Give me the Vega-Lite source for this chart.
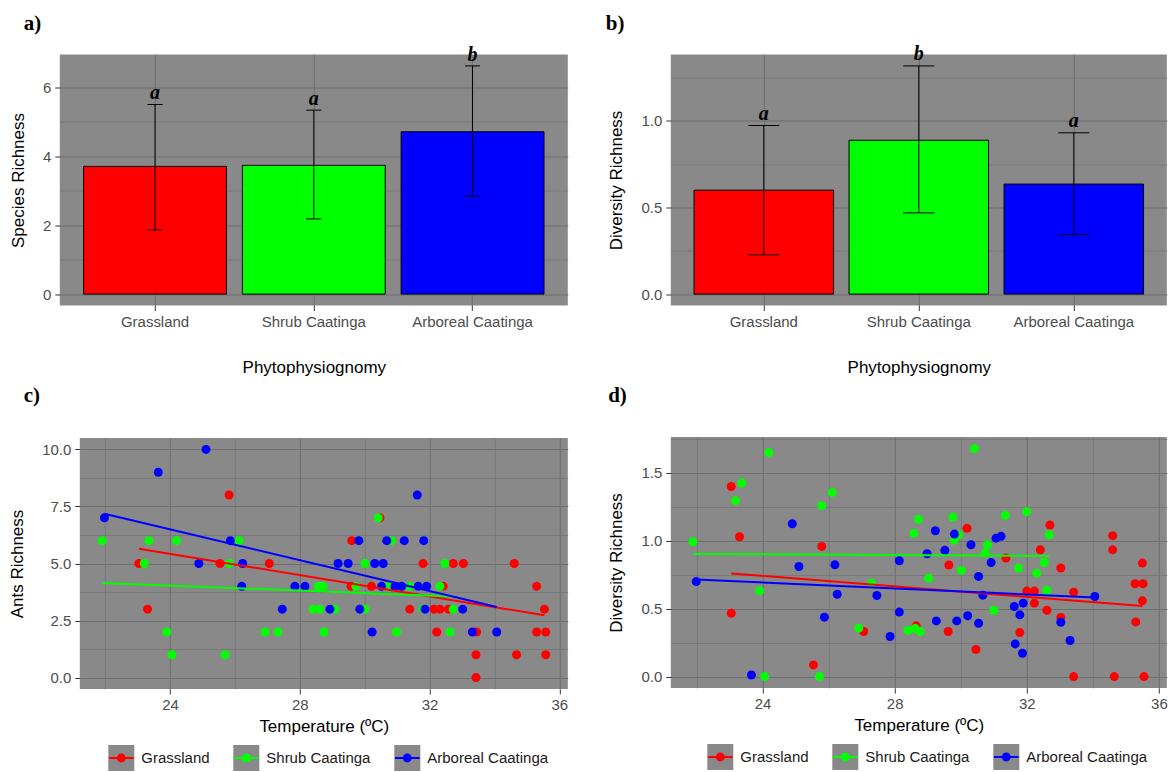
{
  "$schema": "https://vega.github.io/schema/vega-lite/v6.json",
  "background": "white",
  "padding": {"left": 7.8, "top": 12.5, "right": 0, "bottom": 0},
  "datasets": {
    "barsA": [
      {"site": "Grassland", "mean": 3.71, "lo": 1.865, "hi": 5.507, "letter": "a"},
      {"site": "Shrub Caatinga", "mean": 3.74, "lo": 2.184, "hi": 5.343, "letter": "a"},
      {"site": "Arboreal Caatinga", "mean": 4.715, "lo": 2.841, "hi": 6.628, "letter": "b"}
    ],
    "barsB": [
      {"site": "Grassland", "mean": 0.6, "lo": 0.227, "hi": 0.973, "letter": "a"},
      {"site": "Shrub Caatinga", "mean": 0.888, "lo": 0.469, "hi": 1.317, "letter": "b"},
      {"site": "Arboreal Caatinga", "mean": 0.635, "lo": 0.344, "hi": 0.931, "letter": "a"}
    ],
    "ants": [
      {"g": "Grassland", "t": 23.04, "r": 5},
      {"g": "Grassland", "t": 23.31, "r": 3},
      {"g": "Grassland", "t": 25.54, "r": 5},
      {"g": "Grassland", "t": 25.82, "r": 8},
      {"g": "Grassland", "t": 27.06, "r": 5},
      {"g": "Grassland", "t": 29.6, "r": 6},
      {"g": "Grassland", "t": 29.58, "r": 4},
      {"g": "Grassland", "t": 30.21, "r": 4},
      {"g": "Grassland", "t": 30.47, "r": 7},
      {"g": "Grassland", "t": 31.39, "r": 3},
      {"g": "Grassland", "t": 31.8, "r": 5},
      {"g": "Grassland", "t": 32.14, "r": 3},
      {"g": "Grassland", "t": 32.32, "r": 3},
      {"g": "Grassland", "t": 32.22, "r": 2},
      {"g": "Grassland", "t": 32.42, "r": 4},
      {"g": "Grassland", "t": 32.58, "r": 3},
      {"g": "Grassland", "t": 32.73, "r": 5},
      {"g": "Grassland", "t": 33.04, "r": 5},
      {"g": "Grassland", "t": 33.45, "r": 2},
      {"g": "Grassland", "t": 33.43, "r": 1},
      {"g": "Grassland", "t": 33.43, "r": 0},
      {"g": "Grassland", "t": 34.61, "r": 5},
      {"g": "Grassland", "t": 34.68, "r": 1},
      {"g": "Grassland", "t": 35.3, "r": 4},
      {"g": "Grassland", "t": 35.54, "r": 3},
      {"g": "Grassland", "t": 35.3, "r": 2},
      {"g": "Grassland", "t": 35.58, "r": 2},
      {"g": "Grassland", "t": 35.58, "r": 1},
      {"g": "Shrub Caatinga", "t": 21.91, "r": 6},
      {"g": "Shrub Caatinga", "t": 23.21, "r": 5},
      {"g": "Shrub Caatinga", "t": 23.35, "r": 6},
      {"g": "Shrub Caatinga", "t": 24.2, "r": 6},
      {"g": "Shrub Caatinga", "t": 23.9, "r": 2},
      {"g": "Shrub Caatinga", "t": 24.06, "r": 1},
      {"g": "Shrub Caatinga", "t": 25.7, "r": 1},
      {"g": "Shrub Caatinga", "t": 25.83, "r": 5},
      {"g": "Shrub Caatinga", "t": 26.13, "r": 6},
      {"g": "Shrub Caatinga", "t": 26.93, "r": 2},
      {"g": "Shrub Caatinga", "t": 27.33, "r": 2},
      {"g": "Shrub Caatinga", "t": 28.41, "r": 3},
      {"g": "Shrub Caatinga", "t": 28.62, "r": 3},
      {"g": "Shrub Caatinga", "t": 28.75, "r": 2},
      {"g": "Shrub Caatinga", "t": 28.57, "r": 4},
      {"g": "Shrub Caatinga", "t": 28.72, "r": 4},
      {"g": "Shrub Caatinga", "t": 29.08, "r": 3},
      {"g": "Shrub Caatinga", "t": 29.73, "r": 4},
      {"g": "Shrub Caatinga", "t": 30.01, "r": 3},
      {"g": "Shrub Caatinga", "t": 30.01, "r": 5},
      {"g": "Shrub Caatinga", "t": 30.42, "r": 7},
      {"g": "Shrub Caatinga", "t": 30.83, "r": 6},
      {"g": "Shrub Caatinga", "t": 30.73, "r": 4},
      {"g": "Shrub Caatinga", "t": 30.98, "r": 2},
      {"g": "Shrub Caatinga", "t": 31.39, "r": 4},
      {"g": "Shrub Caatinga", "t": 31.8, "r": 3},
      {"g": "Shrub Caatinga", "t": 32.32, "r": 4},
      {"g": "Shrub Caatinga", "t": 32.47, "r": 5},
      {"g": "Shrub Caatinga", "t": 32.63, "r": 2},
      {"g": "Shrub Caatinga", "t": 32.73, "r": 3},
      {"g": "Arboreal Caatinga", "t": 21.98, "r": 7},
      {"g": "Arboreal Caatinga", "t": 23.64, "r": 9},
      {"g": "Arboreal Caatinga", "t": 25.11, "r": 10},
      {"g": "Arboreal Caatinga", "t": 24.89, "r": 5},
      {"g": "Arboreal Caatinga", "t": 25.86, "r": 6},
      {"g": "Arboreal Caatinga", "t": 26.24, "r": 5},
      {"g": "Arboreal Caatinga", "t": 26.21, "r": 4},
      {"g": "Arboreal Caatinga", "t": 27.46, "r": 3},
      {"g": "Arboreal Caatinga", "t": 27.85, "r": 4},
      {"g": "Arboreal Caatinga", "t": 28.16, "r": 4},
      {"g": "Arboreal Caatinga", "t": 28.93, "r": 3},
      {"g": "Arboreal Caatinga", "t": 29.18, "r": 5},
      {"g": "Arboreal Caatinga", "t": 29.49, "r": 5},
      {"g": "Arboreal Caatinga", "t": 29.82, "r": 6},
      {"g": "Arboreal Caatinga", "t": 29.85, "r": 3},
      {"g": "Arboreal Caatinga", "t": 30.23, "r": 2},
      {"g": "Arboreal Caatinga", "t": 30.31, "r": 5},
      {"g": "Arboreal Caatinga", "t": 30.57, "r": 5},
      {"g": "Arboreal Caatinga", "t": 30.52, "r": 4},
      {"g": "Arboreal Caatinga", "t": 30.68, "r": 6},
      {"g": "Arboreal Caatinga", "t": 31.22, "r": 6},
      {"g": "Arboreal Caatinga", "t": 31.62, "r": 8},
      {"g": "Arboreal Caatinga", "t": 31.82, "r": 6},
      {"g": "Arboreal Caatinga", "t": 31.86, "r": 3},
      {"g": "Arboreal Caatinga", "t": 30.93, "r": 4},
      {"g": "Arboreal Caatinga", "t": 31.14, "r": 4},
      {"g": "Arboreal Caatinga", "t": 31.65, "r": 4},
      {"g": "Arboreal Caatinga", "t": 31.91, "r": 4},
      {"g": "Arboreal Caatinga", "t": 33.02, "r": 3},
      {"g": "Arboreal Caatinga", "t": 33.32, "r": 2},
      {"g": "Arboreal Caatinga", "t": 34.07, "r": 2}
    ],
    "antsFit": [
      {"g": "Grassland", "t": 23.04, "r": 5.65},
      {"g": "Grassland", "t": 35.54, "r": 2.73},
      {"g": "Shrub Caatinga", "t": 21.91, "r": 4.15},
      {"g": "Shrub Caatinga", "t": 32.73, "r": 3.55},
      {"g": "Arboreal Caatinga", "t": 21.98, "r": 7.18},
      {"g": "Arboreal Caatinga", "t": 34.07, "r": 3.09}
    ],
    "div": [
      {"g": "Grassland", "t": 23.05, "r": 1.4},
      {"g": "Grassland", "t": 23.3, "r": 1.03},
      {"g": "Grassland", "t": 23.05, "r": 0.467},
      {"g": "Grassland", "t": 25.79, "r": 0.959},
      {"g": "Grassland", "t": 25.54, "r": 0.086},
      {"g": "Grassland", "t": 27.06, "r": 0.332},
      {"g": "Grassland", "t": 28.65, "r": 0.374},
      {"g": "Grassland", "t": 30.19, "r": 1.092},
      {"g": "Grassland", "t": 32.7, "r": 1.116},
      {"g": "Grassland", "t": 32.41, "r": 0.934},
      {"g": "Grassland", "t": 29.64, "r": 0.822},
      {"g": "Grassland", "t": 31.37, "r": 0.874},
      {"g": "Grassland", "t": 33.03, "r": 0.8},
      {"g": "Grassland", "t": 32.0, "r": 0.63},
      {"g": "Grassland", "t": 32.23, "r": 0.63},
      {"g": "Grassland", "t": 32.23, "r": 0.541},
      {"g": "Grassland", "t": 32.61, "r": 0.489},
      {"g": "Grassland", "t": 33.03, "r": 0.435},
      {"g": "Grassland", "t": 33.42, "r": 0.0},
      {"g": "Grassland", "t": 33.42, "r": 0.622},
      {"g": "Grassland", "t": 34.6, "r": 1.038},
      {"g": "Grassland", "t": 34.6, "r": 0.934},
      {"g": "Grassland", "t": 34.65, "r": 0.0},
      {"g": "Grassland", "t": 35.5, "r": 0.836},
      {"g": "Grassland", "t": 35.28, "r": 0.684},
      {"g": "Grassland", "t": 35.52, "r": 0.684},
      {"g": "Grassland", "t": 35.5, "r": 0.558},
      {"g": "Grassland", "t": 35.3, "r": 0.403},
      {"g": "Grassland", "t": 35.55, "r": 0.0},
      {"g": "Grassland", "t": 31.79, "r": 0.325},
      {"g": "Grassland", "t": 30.46, "r": 0.2},
      {"g": "Grassland", "t": 29.62, "r": 0.332},
      {"g": "Shrub Caatinga", "t": 21.89, "r": 0.993},
      {"g": "Shrub Caatinga", "t": 23.18, "r": 1.296},
      {"g": "Shrub Caatinga", "t": 23.37, "r": 1.426},
      {"g": "Shrub Caatinga", "t": 24.19, "r": 1.65},
      {"g": "Shrub Caatinga", "t": 23.91, "r": 0.632},
      {"g": "Shrub Caatinga", "t": 24.06, "r": 0.0},
      {"g": "Shrub Caatinga", "t": 25.72, "r": 0.0},
      {"g": "Shrub Caatinga", "t": 25.79, "r": 1.259},
      {"g": "Shrub Caatinga", "t": 26.11, "r": 1.357},
      {"g": "Shrub Caatinga", "t": 26.91, "r": 0.357},
      {"g": "Shrub Caatinga", "t": 27.3, "r": 0.688},
      {"g": "Shrub Caatinga", "t": 28.4, "r": 0.34},
      {"g": "Shrub Caatinga", "t": 28.62, "r": 0.354},
      {"g": "Shrub Caatinga", "t": 28.77, "r": 0.332},
      {"g": "Shrub Caatinga", "t": 28.58, "r": 1.055},
      {"g": "Shrub Caatinga", "t": 28.72, "r": 1.16},
      {"g": "Shrub Caatinga", "t": 29.03, "r": 0.725},
      {"g": "Shrub Caatinga", "t": 29.76, "r": 1.175},
      {"g": "Shrub Caatinga", "t": 29.8, "r": 1.005},
      {"g": "Shrub Caatinga", "t": 29.94, "r": 1.045},
      {"g": "Shrub Caatinga", "t": 30.02, "r": 0.782},
      {"g": "Shrub Caatinga", "t": 30.41, "r": 1.679},
      {"g": "Shrub Caatinga", "t": 30.74, "r": 0.91},
      {"g": "Shrub Caatinga", "t": 30.81, "r": 0.971},
      {"g": "Shrub Caatinga", "t": 31.0, "r": 0.489},
      {"g": "Shrub Caatinga", "t": 31.35, "r": 1.188},
      {"g": "Shrub Caatinga", "t": 31.75, "r": 0.8},
      {"g": "Shrub Caatinga", "t": 32.0, "r": 1.215},
      {"g": "Shrub Caatinga", "t": 32.3, "r": 0.762},
      {"g": "Shrub Caatinga", "t": 32.53, "r": 0.84},
      {"g": "Shrub Caatinga", "t": 32.61, "r": 0.634},
      {"g": "Shrub Caatinga", "t": 32.68, "r": 1.045},
      {"g": "Arboreal Caatinga", "t": 21.99, "r": 0.7},
      {"g": "Arboreal Caatinga", "t": 23.66, "r": 0.012},
      {"g": "Arboreal Caatinga", "t": 24.9, "r": 1.126},
      {"g": "Arboreal Caatinga", "t": 25.1, "r": 0.811},
      {"g": "Arboreal Caatinga", "t": 25.87, "r": 0.438},
      {"g": "Arboreal Caatinga", "t": 26.19, "r": 0.824},
      {"g": "Arboreal Caatinga", "t": 26.26, "r": 0.607},
      {"g": "Arboreal Caatinga", "t": 27.46, "r": 0.597},
      {"g": "Arboreal Caatinga", "t": 27.86, "r": 0.295},
      {"g": "Arboreal Caatinga", "t": 28.14, "r": 0.853},
      {"g": "Arboreal Caatinga", "t": 28.14, "r": 0.475},
      {"g": "Arboreal Caatinga", "t": 28.98, "r": 0.905},
      {"g": "Arboreal Caatinga", "t": 29.23, "r": 1.074},
      {"g": "Arboreal Caatinga", "t": 29.26, "r": 0.41},
      {"g": "Arboreal Caatinga", "t": 29.52, "r": 0.93},
      {"g": "Arboreal Caatinga", "t": 29.81, "r": 1.05},
      {"g": "Arboreal Caatinga", "t": 29.88, "r": 0.41},
      {"g": "Arboreal Caatinga", "t": 30.21, "r": 0.448},
      {"g": "Arboreal Caatinga", "t": 30.31, "r": 0.971},
      {"g": "Arboreal Caatinga", "t": 30.54, "r": 0.738},
      {"g": "Arboreal Caatinga", "t": 30.54, "r": 0.393},
      {"g": "Arboreal Caatinga", "t": 30.67, "r": 0.6},
      {"g": "Arboreal Caatinga", "t": 30.92, "r": 0.84},
      {"g": "Arboreal Caatinga", "t": 31.07, "r": 1.02},
      {"g": "Arboreal Caatinga", "t": 31.22, "r": 1.033},
      {"g": "Arboreal Caatinga", "t": 31.62, "r": 0.516},
      {"g": "Arboreal Caatinga", "t": 31.65, "r": 0.241},
      {"g": "Arboreal Caatinga", "t": 31.79, "r": 0.455},
      {"g": "Arboreal Caatinga", "t": 31.87, "r": 0.172},
      {"g": "Arboreal Caatinga", "t": 31.89, "r": 0.541},
      {"g": "Arboreal Caatinga", "t": 33.03, "r": 0.4},
      {"g": "Arboreal Caatinga", "t": 33.31, "r": 0.266},
      {"g": "Arboreal Caatinga", "t": 34.06, "r": 0.59}
    ],
    "divFit": [
      {"g": "Grassland", "t": 23.05, "r": 0.76},
      {"g": "Grassland", "t": 35.5, "r": 0.52},
      {"g": "Shrub Caatinga", "t": 21.89, "r": 0.904},
      {"g": "Shrub Caatinga", "t": 32.68, "r": 0.888},
      {"g": "Arboreal Caatinga", "t": 21.99, "r": 0.715},
      {"g": "Arboreal Caatinga", "t": 34.06, "r": 0.583}
    ]
  },
  "config": {
    "font": "Liberation Sans",
    "view": {"fill": "#898989", "stroke": null},
    "axis": {
      "labelFontSize": 15,
      "labelColor": "#4D4D4D",
      "labelPadding": 4,
      "labelFlush": false,
      "titleFontSize": 17,
      "titleFontWeight": "normal",
      "titleColor": "#000000",
      "tickColor": "#333333",
      "tickSize": 5,
      "domain": false,
      "gridColor": "#6F6F6F",
      "gridWidth": 1.1
    },
    "legend": {
      "title": null,
      "orient": "none",
      "direction": "horizontal",
      "padding": 0,
      "symbolSize": 676,
      "symbolStrokeWidth": 0,
      "symbolOpacity": 1,
      "labelFontSize": 15,
      "labelColor": "#1A1A1A",
      "labelOffset": 7,
      "columnPadding": 23
    },
    "title": {
      "font": "Liberation Serif",
      "fontSize": 21,
      "fontWeight": "bold",
      "color": "#000000",
      "anchor": "start",
      "frame": "group",
      "baseline": "alphabetic"
    }
  },
  "columns": 2,
  "align": {"row": "none", "column": "each"},
  "center": {"row": false, "column": true},
  "bounds": "full",
  "spacing": {"row": 9.5, "column": 18},
  "resolve": {
    "scale": {"color": "independent", "fill": "independent", "stroke": "independent"},
    "legend": {"color": "independent", "fill": "independent"}
  },
  "concat": [
    {
      "width": 508,
      "height": 251,
      "title": {"text": "a)", "dx": -36, "offset": 10.4},
      "data": {"name": "barsA"},
      "encoding": {
        "x": {
          "field": "site", "type": "nominal",
          "sort": ["Grassland", "Shrub Caatinga", "Arboreal Caatinga"],
          "scale": {"paddingInner": 0.1, "paddingOuter": 0.15},
          "axis": {"title": "Phytophysiognomy", "labelAngle": 0, "bandPosition": 0.5, "grid": true, "titlePadding": 30}
        }
      },
      "resolve": {"axis": {"y": "independent"}},
      "layer": [
        {
          "layer": [
            {
              "mark": {"type": "bar", "stroke": "#000000", "strokeWidth": 1},
              "encoding": {
                "y": {
                  "field": "mean", "type": "quantitative",
                  "scale": {"domain": [-0.331, 6.959], "nice": false, "zero": false},
                  "axis": {
                    "title": "Species Richness",
                    "orient": "left",
                    "values": [0, 1, 2, 3, 4, 5, 6],
                    "labelExpr": "datum.value % 2 === 0 ? datum.label : ''",
                    "gridWidth": {"condition": {"test": "datum.value % 2 === 0", "value": 1.1}, "value": 0.6},
                    "tickOpacity": {"condition": {"test": "datum.value % 2 === 0", "value": 1}, "value": 0},
                    "titlePadding": 15
                  }
                },
                "y2": {"datum": 0},
                "fill": {
                  "field": "site", "type": "nominal",
                  "scale": {"domain": ["Grassland", "Shrub Caatinga", "Arboreal Caatinga"], "range": ["#FF0000", "#00FF00", "#0000FF"]},
                  "legend": null
                }
              }
            },
            {
              "mark": {"type": "rule", "color": "#000000", "strokeWidth": 1},
              "encoding": {"y": {"field": "lo", "type": "quantitative"}, "y2": {"field": "hi"}}
            },
            {
              "mark": {"type": "tick", "color": "#000000", "size": 15, "thickness": 1, "opacity": 1},
              "encoding": {"y": {"field": "lo", "type": "quantitative"}}
            },
            {
              "mark": {"type": "tick", "color": "#000000", "size": 15, "thickness": 1, "opacity": 1},
              "encoding": {"y": {"field": "hi", "type": "quantitative"}}
            },
            {
              "mark": {"type": "text", "font": "Liberation Serif", "fontSize": 20, "fontWeight": "bold", "fontStyle": "italic", "baseline": "alphabetic", "dy": -5, "color": "#000000"},
              "encoding": {"y": {"field": "hi", "type": "quantitative"}, "text": {"field": "letter"}}
            }
          ]
        },
        {
          "mark": {"type": "point", "opacity": 0, "size": 1},
          "encoding": {
            "y": {
              "field": "mean", "type": "quantitative",
              "axis": {"orient": "right", "title": "x", "titleOpacity": 0, "titleFontSize": 17, "titlePadding": 2, "labels": false, "ticks": false, "grid": false, "domain": false}
            }
          }
        }
      ]
    },
    {
      "width": 496,
      "height": 251,
      "title": {"text": "b)", "dx": -65, "offset": 10.1},
      "data": {"name": "barsB"},
      "encoding": {
        "x": {
          "field": "site", "type": "nominal",
          "sort": ["Grassland", "Shrub Caatinga", "Arboreal Caatinga"],
          "scale": {"paddingInner": 0.1, "paddingOuter": 0.15},
          "axis": {"title": "Phytophysiognomy", "labelAngle": 0, "bandPosition": 0.5, "grid": true, "titlePadding": 30}
        }
      },
      "layer": [
        {
          "mark": {"type": "bar", "stroke": "#000000", "strokeWidth": 1},
          "encoding": {
            "y": {
              "field": "mean", "type": "quantitative",
              "scale": {"domain": [-0.0659, 1.383], "nice": false, "zero": false},
              "axis": {
                "title": "Diversity Richness",
                "values": [0, 0.25, 0.5, 0.75, 1, 1.25],
                "labelExpr": "datum.value % 0.5 === 0 ? format(datum.value, '.1f') : ''",
                "gridWidth": {"condition": {"test": "datum.value % 0.5 === 0", "value": 1.1}, "value": 0.6},
                "tickOpacity": {"condition": {"test": "datum.value % 0.5 === 0", "value": 1}, "value": 0},
                "titlePadding": 15
              }
            },
            "y2": {"datum": 0},
            "fill": {
              "field": "site", "type": "nominal",
              "scale": {"domain": ["Grassland", "Shrub Caatinga", "Arboreal Caatinga"], "range": ["#FF0000", "#00FF00", "#0000FF"]},
              "legend": null
            }
          }
        },
        {
          "mark": {"type": "rule", "color": "#000000", "strokeWidth": 1},
          "encoding": {"y": {"field": "lo", "type": "quantitative"}, "y2": {"field": "hi"}}
        },
        {
          "mark": {"type": "tick", "color": "#000000", "size": 31, "thickness": 1, "opacity": 1},
          "encoding": {"y": {"field": "lo", "type": "quantitative"}}
        },
        {
          "mark": {"type": "tick", "color": "#000000", "size": 31, "thickness": 1, "opacity": 1},
          "encoding": {"y": {"field": "hi", "type": "quantitative"}}
        },
        {
          "mark": {"type": "text", "font": "Liberation Serif", "fontSize": 20, "fontWeight": "bold", "fontStyle": "italic", "baseline": "alphabetic", "dy": -6, "color": "#000000"},
          "encoding": {"y": {"field": "hi", "type": "quantitative"}, "text": {"field": "letter"}}
        }
      ]
    },
    {
      "width": 488,
      "height": 251,
      "title": {"text": "c)", "dx": -56, "offset": 31.5},
      "encoding": {
        "x": {
          "field": "t", "type": "quantitative",
          "scale": {"domain": [21.22, 36.26], "nice": false, "zero": false},
          "axis": {
            "title": "Temperature (ºC)",
            "values": [22, 24, 26, 28, 30, 32, 34, 36],
            "labelExpr": "datum.value % 4 === 0 ? datum.label : ''",
            "gridWidth": {"condition": {"test": "datum.value % 4 === 0", "value": 1.1}, "value": 0.6},
            "tickOpacity": {"condition": {"test": "datum.value % 4 === 0", "value": 1}, "value": 0},
            "titlePadding": 6
          }
        },
        "y": {
          "field": "r", "type": "quantitative",
          "scale": {"domain": [-0.5, 10.5], "nice": false, "zero": false},
          "axis": {
            "title": "Ants Richness",
            "values": [0, 1.25, 2.5, 3.75, 5, 6.25, 7.5, 8.75, 10],
            "labelExpr": "datum.value % 2.5 === 0 ? format(datum.value, '.1f') : ''",
            "gridWidth": {"condition": {"test": "datum.value % 2.5 === 0", "value": 1.1}, "value": 0.6},
            "tickOpacity": {"condition": {"test": "datum.value % 2.5 === 0", "value": 1}, "value": 0},
            "titlePadding": 15
          }
        }
      },
      "layer": [
        {
          "data": {"name": "ants"},
          "mark": {"type": "point", "filled": true, "shape": "square", "size": 1, "opacity": 0},
          "encoding": {
            "color": {
              "field": "g", "type": "nominal",
              "sort": ["Grassland", "Shrub Caatinga", "Arboreal Caatinga"],
              "scale": {"range": ["#898989", "#898989", "#898989"]},
              "legend": {
                "legendX": 28.5, "legendY": 307,
                "symbolType": "square", "symbolFillColor": "#898989",
                "labelOpacity": 0
              }
            }
          }
        },
        {
          "data": {"name": "ants"},
          "mark": {"type": "point", "filled": true, "shape": "circle", "size": 81, "opacity": 1, "strokeWidth": 0},
          "encoding": {
            "fill": {
              "field": "g", "type": "nominal",
              "scale": {"domain": ["Grassland", "Shrub Caatinga", "Arboreal Caatinga"], "range": ["#FF0000", "#00FF00", "#0000FF"]},
              "legend": {
                "legendX": 28.5, "legendY": 307,
                "symbolType": "M-0.95,-0.085H0.95V0.085H-0.95Z M0.34,0A0.34,0.34,0,1,1,-0.34,0A0.34,0.34,0,1,1,0.34,0Z"
              }
            }
          }
        },
        {
          "data": {"name": "antsFit"},
          "mark": {"type": "line", "strokeWidth": 2},
          "encoding": {
            "stroke": {
              "field": "g", "type": "nominal",
              "scale": {"domain": ["Grassland", "Shrub Caatinga", "Arboreal Caatinga"], "range": ["#FF0000", "#00FF00", "#0000FF"]},
              "legend": null
            }
          }
        }
      ]
    },
    {
      "width": 496,
      "height": 251,
      "title": {"text": "d)", "dx": -62.6, "offset": 30.5},
      "encoding": {
        "x": {
          "field": "t", "type": "quantitative",
          "scale": {"domain": [21.22, 36.24], "nice": false, "zero": false},
          "axis": {
            "title": "Temperature (ºC)",
            "values": [22, 24, 26, 28, 30, 32, 34, 36],
            "labelExpr": "datum.value % 4 === 0 ? datum.label : ''",
            "gridWidth": {"condition": {"test": "datum.value % 4 === 0", "value": 1.1}, "value": 0.6},
            "tickOpacity": {"condition": {"test": "datum.value % 4 === 0", "value": 1}, "value": 0},
            "titlePadding": 6
          }
        },
        "y": {
          "field": "r", "type": "quantitative",
          "scale": {"domain": [-0.084, 1.765], "nice": false, "zero": false},
          "axis": {
            "title": "Diversity Richness",
            "values": [0, 0.25, 0.5, 0.75, 1, 1.25, 1.5, 1.75],
            "labelExpr": "datum.value % 0.5 === 0 ? format(datum.value, '.1f') : ''",
            "gridWidth": {"condition": {"test": "datum.value % 0.5 === 0", "value": 1.1}, "value": 0.6},
            "tickOpacity": {"condition": {"test": "datum.value % 0.5 === 0", "value": 1}, "value": 0},
            "titlePadding": 15
          }
        }
      },
      "layer": [
        {
          "data": {"name": "div"},
          "mark": {"type": "point", "filled": true, "shape": "square", "size": 1, "opacity": 0},
          "encoding": {
            "color": {
              "field": "g", "type": "nominal",
              "sort": ["Grassland", "Shrub Caatinga", "Arboreal Caatinga"],
              "scale": {"range": ["#898989", "#898989", "#898989"]},
              "legend": {
                "legendX": 36.5, "legendY": 307,
                "symbolType": "square", "symbolFillColor": "#898989",
                "labelOpacity": 0
              }
            }
          }
        },
        {
          "data": {"name": "div"},
          "mark": {"type": "point", "filled": true, "shape": "circle", "size": 81, "opacity": 1, "strokeWidth": 0},
          "encoding": {
            "fill": {
              "field": "g", "type": "nominal",
              "scale": {"domain": ["Grassland", "Shrub Caatinga", "Arboreal Caatinga"], "range": ["#FF0000", "#00FF00", "#0000FF"]},
              "legend": {
                "legendX": 36.5, "legendY": 307,
                "symbolType": "M-0.95,-0.085H0.95V0.085H-0.95Z M0.34,0A0.34,0.34,0,1,1,-0.34,0A0.34,0.34,0,1,1,0.34,0Z"
              }
            }
          }
        },
        {
          "data": {"name": "divFit"},
          "mark": {"type": "line", "strokeWidth": 2},
          "encoding": {
            "stroke": {
              "field": "g", "type": "nominal",
              "scale": {"domain": ["Grassland", "Shrub Caatinga", "Arboreal Caatinga"], "range": ["#FF0000", "#00FF00", "#0000FF"]},
              "legend": null
            }
          }
        }
      ]
    }
  ]
}
